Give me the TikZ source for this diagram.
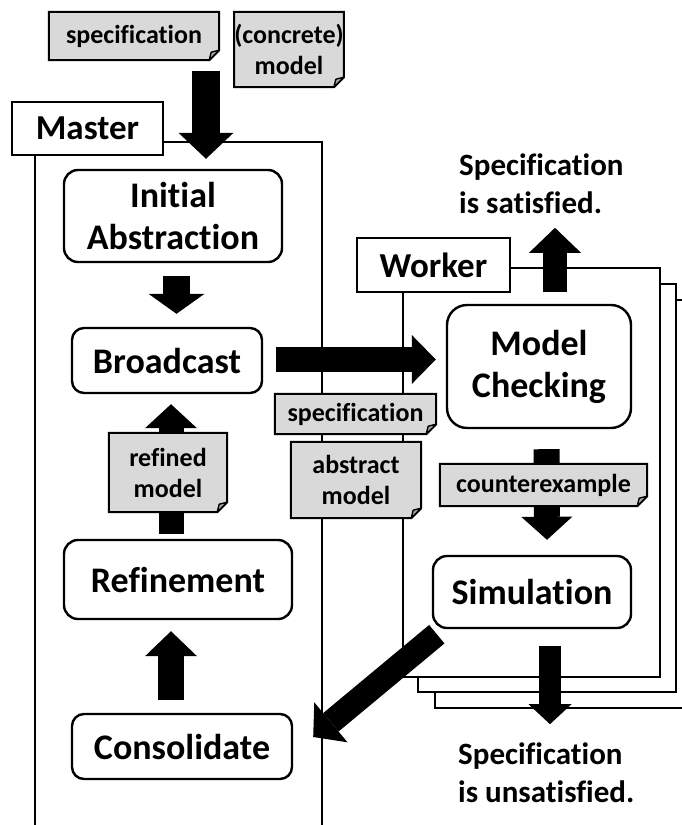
\documentclass[tikz,border=0pt]{standalone}
\usepackage{fontspec}
\setmainfont{Carlito}[Ligatures={NoCommon}]
\usetikzlibrary{arrows.meta,calc}
\definecolor{docgray}{HTML}{D9D9D9}
\definecolor{foldgray}{HTML}{A6A6A6}
\pgfdeclarelayer{docbg}
\pgfdeclarelayer{doctext}
\pgfsetlayers{main,docbg,doctext}
\begin{document}
\begin{tikzpicture}[x=1pt,y=-1pt,
  lw/.style={line width=2.4pt},
  procbox/.style={draw, lw, rounded corners=14pt, fill=white, align=center, inner sep=0pt,
    font=\bfseries\fontsize{36}{42}\selectfont},
  lblbox/.style={draw, lw, fill=white, inner sep=0pt, font=\bfseries\fontsize{35}{42}\selectfont},
  docbox/.style={inner sep=0pt, align=center, font=\bfseries\fontsize{26}{31}\selectfont},
  docshape/.style={line width=2pt, fill=docgray, line join=miter},
  outtext/.style={align=left, inner sep=0pt, font=\bfseries\fontsize{31}{38}\selectfont},
  blk/.style n args={3}{line width=#1, line cap=butt,
    -{Triangle[width=#2, length=#3, line width=0pt]}},
  foldline/.style={line width=1.4pt, fill=foldgray, line join=round}
]
\useasboundingbox (0,0) rectangle (682,825);

% ---------- Master frame ----------
\draw[lw] (35,825) -- (35,142) -- (322,142) -- (322,825);
\node[lblbox, minimum width=151pt, minimum height=53pt] (master) at (87.5,128.5) {Master};

% ---------- Worker frames (stacked) ----------
\draw[lw, fill=white] (435,300) rectangle (700,708);
\draw[lw, fill=white] (418,284) rectangle (676,692);
\draw[lw, fill=white] (403,268) rectangle (660,677);
\node[lblbox, minimum width=153pt, minimum height=54pt] (worker) at (433.5,265) {Worker};

% ---------- Process boxes ----------
\node[procbox, minimum width=218pt, minimum height=92pt] (init) at (173,216) {Initial\\Abstraction};
\node[procbox, rounded corners=12pt, minimum width=190pt, minimum height=65pt] (bcast) at (167,360.5) {Broadcast};
\node[procbox, minimum width=228pt, minimum height=79pt] (refine) at (178,579.5) {Refinement};
\node[procbox, rounded corners=12pt, minimum width=220pt, minimum height=65pt] (consol) at (182,746.5) {Consolidate};
\node[procbox, rounded corners=20pt, minimum width=184pt, minimum height=123pt] (mc) at (539,366.5) {Model\\Checking};
\node[procbox, minimum width=198pt, minimum height=72pt] (sim) at (532,592) {Simulation};

% ---------- Outcome texts ----------
\node[outtext, anchor=base west] (sat) at (459,213) {Specification\\is satisfied.};
\node[outtext, anchor=base west] (unsat) at (458,802) {Specification\\is unsatisfied.};

% ---------- Block arrows ----------
\coordinate (inp) at (206,71);
\draw[blk={28pt}{55pt}{26pt}] (inp) -- ($(init.north)+(33,-10)$);
\draw[blk={27pt}{56pt}{20pt}] ($(init.south)+(3.5,13)$) -- ($(bcast.north)+(9.5,-13)$);
\draw[blk={25pt}{52pt}{24pt}] ($(refine.north)+(-7,-5)$) -- ($(bcast.south)+(4,10)$);
\draw[blk={26pt}{52pt}{25pt}] ($(consol.north)+(-11,-13)$) -- ($(refine.south)+(-7,11)$);
\draw[blk={25pt}{49pt}{24pt}] ($(bcast.east)+(13,-1)$) -- ($(mc.west)+(-10,-7)$);
\draw[blk={26pt}{51pt}{23pt}] ($(mc.south)+(7.5,20)$) -- ($(sim.north)+(15,-15)$);
\draw[blk={24pt}{52pt}{25pt}] ($(mc.north)+(16,-12)$) -- ($(mc.north)+(16,-76)$);
\draw[blk={22pt}{43pt}{20pt}] ($(sim.south)+(18,17)$) -- ($(sim.south)+(18,95)$);
\draw[blk={24pt}{52pt}{23pt}] ($(sim.south west)+(5,5)$) -- ($(consol.east)+(20,-9.5)$);

% ---------- Documents (folded corner) ----------
\newcommand\docitem[5]{% name, center, width, height, text
  \begin{pgfonlayer}{doctext}
    \node[docbox, minimum width=#3, minimum height=#4] (#1) at (#2) {#5};
  \end{pgfonlayer}
  \begin{pgfonlayer}{docbg}
    \filldraw[docshape] (#1.north west) -- (#1.north east)
      -- ($(#1.south east)+(0,-10)$) -- ($(#1.south east)+(-10,0)$)
      -- (#1.south west) -- cycle;
    \filldraw[foldline] ($(#1.south east)+(-10,0)$)
      .. controls ($(#1.south east)+(-9,-4)$) .. ($(#1.south east)+(-8,-8)$)
      .. controls ($(#1.south east)+(-4,-9)$) .. ($(#1.south east)+(0,-10)$) -- cycle;
  \end{pgfonlayer}}
\docitem{specT}{134,36}{170pt}{48pt}{specification}
\docitem{concT}{289,49.5}{102pt}{75pt}{(concrete)\\model}
\docitem{specM}{355.5,414}{161pt}{40pt}{specification}
\docitem{absM}{356,480}{130pt}{76pt}{abstract\\model}
\docitem{refM}{168,472.5}{118pt}{79pt}{refined\\model}
\docitem{cex}{543.5,485}{207pt}{42pt}{counterexample}
\end{tikzpicture}
\end{document}
